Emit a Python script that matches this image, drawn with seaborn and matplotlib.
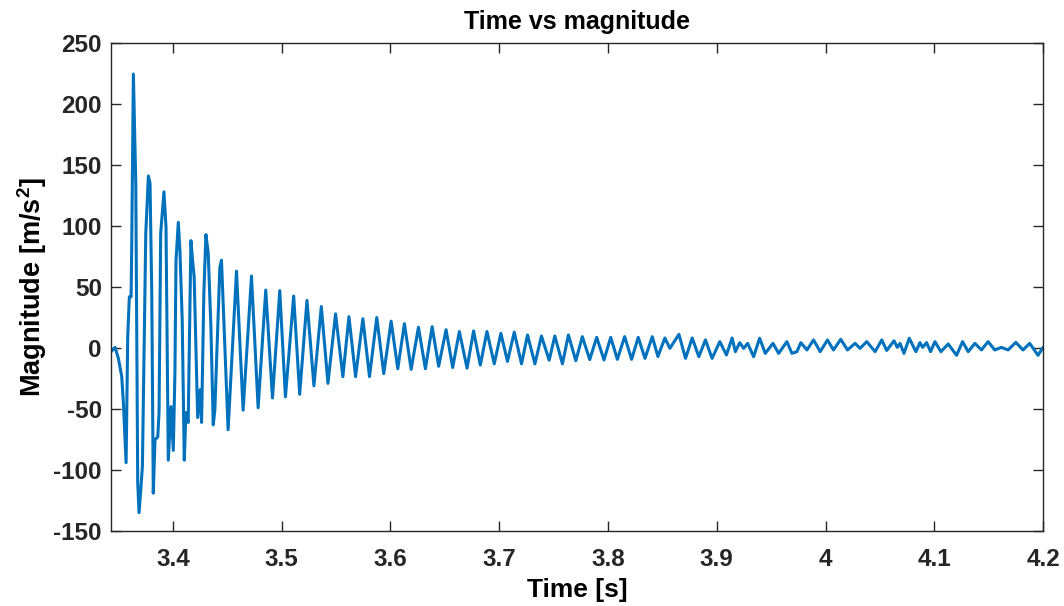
import numpy as np
import pandas as pd
import matplotlib
matplotlib.use("Agg")
import matplotlib.pyplot as plt
import seaborn as sns

# values (peaks, troughs and a few notches)
time_s = [
    3.3431, 3.3468, 3.3498, 3.3529, 3.3544, 3.3569, 3.3584, 3.3599, 3.3615, 3.3621,
    3.3636, 3.3658, 3.3676, 3.3688, 3.3706, 3.3719, 3.3734, 3.3750, 3.3774, 3.3789,
    3.3805, 3.3819, 3.3835, 3.3860, 3.3872, 3.3887, 3.3917, 3.3936, 3.3957, 3.3982,
    3.4003, 3.4018, 3.4028, 3.4049, 3.4064, 3.4085, 3.4104, 3.4119, 3.4140, 3.4165,
    3.4180, 3.4195, 3.4227, 3.4251, 3.4263, 3.4284, 3.4303, 3.4324, 3.4349, 3.4370,
    3.4385, 3.4431, 3.4446, 3.4470, 3.4507,
    3.4584, 3.4645, 3.4722, 3.4783, 3.4853, 3.4915, 3.4982, 3.5034, 3.5110, 3.5165,
    3.5232, 3.5296, 3.5364, 3.5425, 3.5495, 3.5562, 3.5618,
    3.5679, 3.5746, 3.5807, 3.5874, 3.5938, 3.6006, 3.6067, 3.6128, 3.6190, 3.6257,
    3.6321, 3.6383, 3.6443, 3.6511, 3.6572, 3.6633, 3.6704, 3.6764,
    3.6826, 3.6887, 3.6954, 3.7015, 3.7076, 3.7138, 3.7205, 3.7260, 3.7328, 3.7388,
    3.7459, 3.7511, 3.7581, 3.7636, 3.7704, 3.7764,
    3.7832, 3.7896, 3.7963, 3.8025, 3.8086, 3.8153, 3.8217, 3.8278, 3.8340, 3.8407,
    3.8459, 3.8523, 3.8569, 3.8652, 3.8713, 3.8774, 3.8835, 3.8896, 3.8957, 3.9028,
    3.9089, 3.9141,
    3.9171, 3.9211, 3.9247, 3.9284, 3.9339, 3.9394, 3.9446, 3.9517, 3.9569, 3.9645,
    3.9691, 3.9737, 3.9773, 3.9829, 3.9890, 3.9951, 4.0018, 4.0073, 4.0140, 4.0202,
    4.0272, 4.0318, 4.0379, 4.0456, 4.0517,
    4.0562, 4.0630, 4.0660, 4.0685, 4.0721, 4.0770, 4.0831, 4.0868, 4.0893, 4.0929,
    4.0966, 4.1006, 4.1061, 4.1128, 4.1205, 4.1260, 4.1312, 4.1373, 4.1434, 4.1495,
    4.1556, 4.1617, 4.1679, 4.1749, 4.1816, 4.1877, 4.1954, 4.2000,
]
magnitude = [
    -3, 0.5, -8.5, -23.5, -45, -94, 9, 42, 42, 86,
    224.6, 135, -110.7, -135, -114, -97, -2, 94, 141, 135,
    45, -119, -75, -73, -53, 94, 128, 99, -92, -48,
    -84, -20, 72, 103, 80, 23, -92, -53, -61, 88,
    72, 58, -57, -34, -61, 45, 93, 78, 17, -63,
    -51, 66, 72, 17.5, -67,
    63, -51, 59, -49, 47.5, -41, 47, -40, 42.6, -38,
    39, -31, 34, -29, 28, -23.5, 25.7,
    -23.5, 24, -23.5, 25, -21, 22, -17, 20, -17.5, 17,
    -17, 17.5, -15, 15, -16, 13.5, -16.5, 14,
    -14, 13.5, -13, 12, -11, 13, -13, 10.7, -13, 9.8,
    -10, 9.8, -13, 10.7, -10.4, 9.3,
    -9.5, 8.7, -9.8, 8.7, -9.3, 9.3, -9.3, 8.7, -8.5, 9.3,
    -7, 8.2, -0.3, 11.2, -8.5, 8.2, -7.1, 6.6, -8.5, 5.2,
    -5.7, 8.2,
    -3, 4.4, -0.3, 3.8, -7.1, 8, -4.4, 3.8, -4.4, 5.2,
    -4.4, -3, 4.4, -1.6, 6.6, -3, 6.6, -1.6, 7.1, -1.6,
    3.8, -0.3, 5.2, -3, 6.6,
    -2, 5.9, 0.5, 3.8, -4.4, 8, -3, 4.4, 0.5, 4.4,
    -3, 5.2, -3, 3.3, -6, 5.2, -3, 3.8, -1.6, 5.2,
    -1.6, 0.5, -1.6, 4.6, -1.6, 3.8, -6, 0.5,
]
x_ticks = [3.4, 3.5, 3.6, 3.7, 3.8, 3.9, 4.0, 4.1, 4.2]
x_tick_labels = ['3.4', '3.5', '3.6', '3.7', '3.8', '3.9', '4', '4.1', '4.2']
y_ticks = [-150, -100, -50, 0, 50, 100, 150, 200, 250]

sns.set_style('ticks')
plt.rcParams['font.family'] = ['Liberation Sans', 'DejaVu Sans']
plt.rcParams['font.weight'] = 'bold'
plt.rcParams['axes.unicode_minus'] = False
plt.rcParams['mathtext.fontset'] = 'custom'
plt.rcParams['mathtext.bf'] = 'Liberation Sans:bold'
plt.rcParams['mathtext.rm'] = 'Liberation Sans:bold'
plt.rcParams['mathtext.default'] = 'bf'

df = pd.DataFrame({'Time': time_s, 'Magnitude': magnitude})

fig = plt.figure(figsize=(10.64, 6.06), dpi=100)
ax = fig.add_axes([0.1043, 0.1238, 0.876, 0.8052])

sns.lineplot(data=df, x='Time', y='Magnitude', ax=ax, color='#0072BD',
             linewidth=2.2, estimator=None, sort=False)

ax.set_xlim(3.343, 4.2)
ax.set_ylim(-150, 250)
ax.set_xticks(x_ticks)
ax.set_xticklabels(x_tick_labels)
ax.set_yticks(y_ticks)

dark = '#262626'
for side in ['top', 'right', 'bottom', 'left']:
    ax.spines[side].set_visible(True)
    ax.spines[side].set_color(dark)
    ax.spines[side].set_linewidth(1.0)
ax.tick_params(direction='in', top=True, right=True, length=7, width=1,
               labelsize=17.5, colors=dark)
ax.tick_params(axis='x', pad=12)
ax.tick_params(axis='y', pad=6.5)
for lbl in ax.get_xticklabels() + ax.get_yticklabels():
    lbl.set_fontweight('bold')

ax.set_title('Time vs magnitude', fontsize=18, fontweight='bold', color='black', pad=10)
ax.set_xlabel('Time [s]', fontsize=19, fontweight='bold', color='black', labelpad=5)
ax.set_ylabel(r'Magnitude [m/s$^{2}$]', fontsize=19.5, fontweight='bold', color='black',
              labelpad=3)

fig.savefig('out.png', dpi=100)
plt.close(fig)
